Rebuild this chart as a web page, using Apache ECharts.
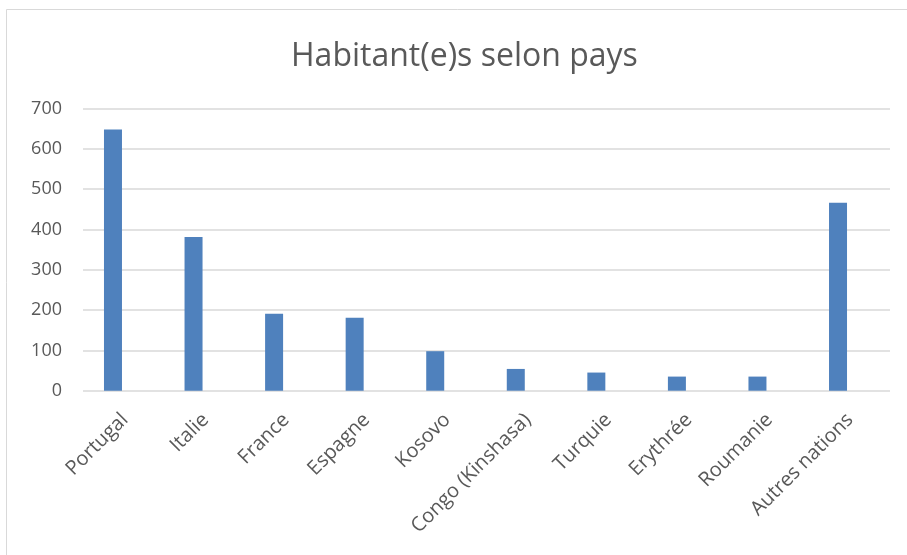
<!DOCTYPE html>
<html>
<head>
<meta charset="utf-8">
<script src="https://cdn.jsdelivr.net/npm/echarts@6/dist/echarts.min.js"></script>
<style>html,body{margin:0;padding:0;background:#fff}#c{width:907px;height:555px}</style>
</head>
<body>
<div id="c"></div>
<script>
const titleText = "Habitant(e)s selon pays";
const categories = ["Portugal", "Italie", "France", "Espagne", "Kosovo", "Congo (Kinshasa)", "Turquie", "Erythrée", "Roumanie", "Autres nations"];
const values = [648, 381, 191, 181, 98, 54, 45, 35, 35, 466];
const yMin = 0, yMax = 700, yStep = 100;

const FONT = "Open Sans";
const chart = echarts.init(document.getElementById('c'), null, {renderer: 'canvas'});
chart.setOption({
  animation: false,
  backgroundColor: '#ffffff',
  title: {
    text: titleText, left: 286, top: 36,
    textStyle: {fontFamily: FONT, fontSize: 32, fontWeight: 'normal', color: '#595959'}
  },
  graphic: [{
    type: 'rect', shape: {x: 6.5, y: 9.5, width: 920, height: 570},
    style: {fill: null, stroke: '#d9d9d9', lineWidth: 1}, silent: true, z: -1
  }],
  grid: [
    {left: 72.7, right: 28.7, top: 108.5, bottom: 164.3, containLabel: false},
    {left: 83, right: 17, top: 108.5, bottom: 164.3, containLabel: false}
  ],
  xAxis: [
    {type: 'category', gridIndex: 0, data: categories, boundaryGap: true,
     axisLine: {show: false}, axisTick: {show: false},
     axisLabel: {rotate: 45, interval: 0, margin: 14, padding: [7, 0, 0, 0], verticalAlign: 'top', fontFamily: FONT, fontSize: 20, color: '#595959'}},
    {type: 'value', gridIndex: 1, show: false, min: 0, max: 1}
  ],
  yAxis: [
    {type: 'value', gridIndex: 0, min: yMin, max: yMax, interval: yStep, show: false},
    {type: 'value', gridIndex: 1, min: yMin, max: yMax, interval: yStep,
     axisLine: {show: false}, axisTick: {show: false},
     splitLine: {show: true, lineStyle: {color: '#d9d9d9', width: 1.5}},
     axisLabel: {margin: 21, fontFamily: FONT, fontSize: 18, color: '#595959'}}
  ],
  series: [{
    type: 'bar', xAxisIndex: 0, yAxisIndex: 0, data: values, barWidth: 18,
    itemStyle: {color: '#4f81bd'}
  }]
});
</script>
</body>
</html>
